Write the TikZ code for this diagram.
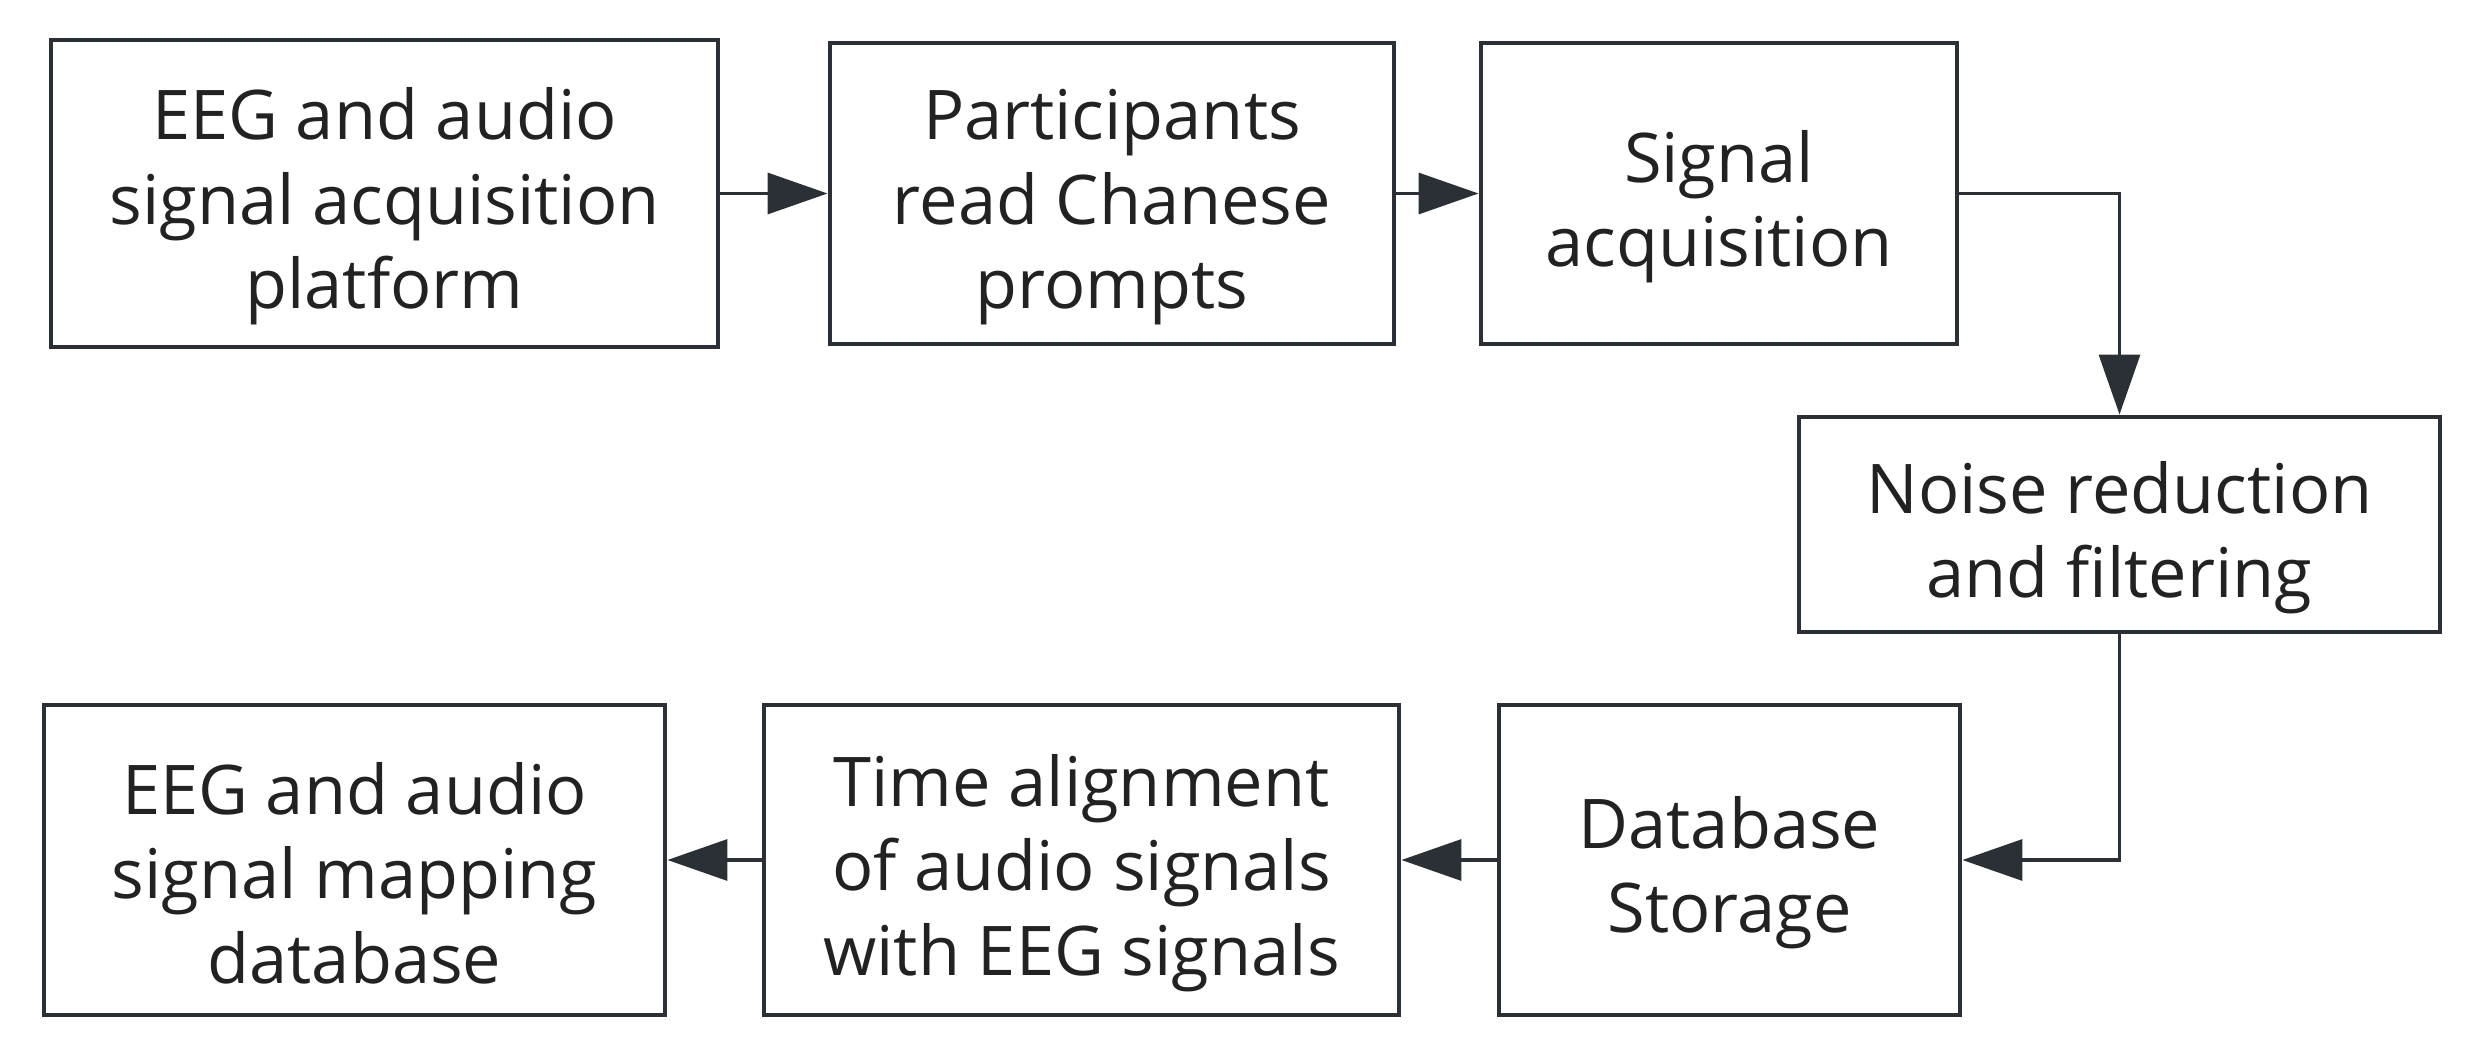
\documentclass[tikz,border=0pt]{standalone}
\usepackage{fontspec}
\setmainfont{Open Sans}
\usetikzlibrary{arrows.meta}
\definecolor{colLine}{HTML}{2A3035}
\definecolor{colText}{HTML}{222222}
\newcommand{\gap}{\rule{0pt}{22.2pt}}
\begin{document}
\begin{tikzpicture}[
        box/.style={draw=colLine, line width=1.4pt, align=center, inner sep=0pt,
            text=colText, font=\fontsize{19.5}{24}\selectfont},
        flow/.style={draw=colLine, line width=0.95pt,
            -{Triangle[length=0.6cm, width=0.41cm]}}
    ]
    \useasboundingbox (0,0) rectangle (24.84,10.59);

    % Top row
    \node[box, minimum width=6.67cm, minimum height=3.07cm] (platform) at (3.845,8.655)
        {\gap EEG and audio\\signal acquisition\\platform};
    \node[box, minimum width=5.64cm, minimum height=3.01cm] (prompts) at (11.12,8.655)
        {\gap Participants\\read Chanese\\prompts};
    \node[box, minimum width=4.76cm, minimum height=3.01cm] (acquire) at (17.19,8.655)
        {\gap Signal\\acquisition};

    % Middle
    \node[box, minimum width=6.41cm, minimum height=2.15cm] (filter) at (21.195,5.345)
        {\gap Noise reduction\\and filtering};

    % Bottom row
    \node[box, minimum width=4.61cm, minimum height=3.10cm] (storage) at (17.295,1.99)
        {\gap Database\\Storage};
    \node[box, minimum width=6.35cm, minimum height=3.10cm] (align) at (10.815,1.99)
        {\gap Time alignment\\of audio signals\\with EEG signals};
    \node[box, minimum width=6.21cm, minimum height=3.10cm] (mapping) at (3.545,1.99)
        {\gap EEG and audio\\signal mapping\\database};

    % Connectors
    \foreach \from/\to in {platform/prompts, prompts/acquire, storage/align, align/mapping}
        \draw[flow] (\from) -- (\to);
    \draw[flow] (acquire.east) -| (filter.north);
    \draw[flow] (filter.south) |- (storage.east);
\end{tikzpicture}
\end{document}
